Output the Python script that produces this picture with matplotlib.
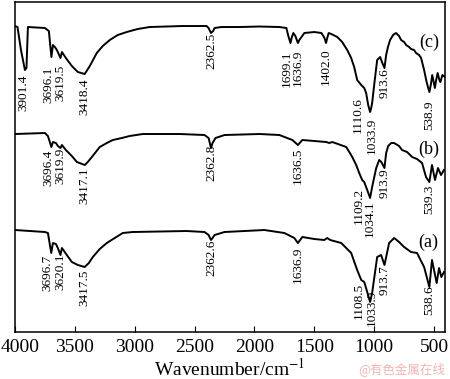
import matplotlib
matplotlib.use("Agg")
import matplotlib.pyplot as plt
import matplotlib.transforms as mtransforms

plt.rcParams['font.family'] = ['Liberation Serif', 'DejaVu Serif']
plt.rcParams['mathtext.fontset'] = 'stix'

# curve (c)
wn_c = [4000, 3979, 3950, 3917, 3904, 3896, 3892, 3750, 3717, 3696, 3683, 3667, 3650, 3620,
        3608, 3575, 3525, 3475, 3418, 3375, 3317, 3267, 3208, 3142, 3067, 2975, 2875, 2600,
        2400, 2383, 2363, 2345, 2333, 2275, 2125, 1958, 1792, 1733, 1717, 1699, 1690, 1675,
        1658, 1637, 1625, 1583, 1500, 1440, 1415, 1402, 1392, 1380, 1358, 1308, 1267, 1225,
        1192, 1167, 1142, 1108, 1083, 1067, 1050, 1034, 1025, 1017, 1000, 975, 950, 935, 914,
        900, 885, 867, 842, 817, 792, 775, 750, 733, 708, 692, 667, 650, 625, 608, 583, 562,
        539, 527, 515, 503, 493, 482, 470, 455, 447, 430, 408]
t_c = [306, 305, 282, 262, 264, 292, 305, 304, 301, 275, 287, 285, 282, 274,
       280, 274, 266, 260, 258, 266, 279, 286, 292, 297, 300, 303, 305, 306,
       306, 304, 299, 301, 304, 305, 305, 305.5, 305, 304, 296, 289, 294, 299,
       296, 289, 292, 299, 300, 299, 294, 289, 294, 299, 298, 295, 290, 282,
       274, 265, 252, 247, 244, 239, 227, 220, 224, 229, 247, 272, 275, 270, 264,
       277, 285, 292, 297, 299, 296, 292, 290, 287, 285, 283, 282, 279, 277, 274, 262, 250,
       240, 247, 257, 250, 244, 252, 259, 252, 250, 257, 255]

# curve (b)
wn_b = [4000, 3750, 3725, 3696, 3683, 3658, 3642, 3620, 3608, 3575, 3525, 3483, 3417, 3392,
        3358, 3292, 3233, 3183, 3108, 3042, 2933, 2625, 2417, 2383, 2363, 2350, 2325, 2250,
        1958, 1792, 1683, 1637, 1600, 1500, 1400, 1375, 1350, 1233, 1183, 1150, 1125, 1100,
        1083, 1058, 1034, 1017, 983, 958, 940, 914, 900, 883, 858, 833, 792, 767, 725, 683,
        642, 600, 567, 539, 517, 492, 467, 442, 417]
t_b = [198, 199, 196, 185, 190, 189, 186, 184, 187, 182, 176, 170, 167, 170,
       175, 185, 189, 192, 194, 196, 198, 198, 197, 194, 184, 189, 194, 197,
       198, 197, 192, 187, 192, 191, 190, 189, 190, 185, 175, 167, 159, 152,
       150, 142, 134, 145, 164, 172, 170, 164, 179, 186, 189, 189, 186, 182, 180, 175,
       173, 169, 155, 150, 167, 152, 164, 157, 162]

# curve (a)
wn_a = [4000, 3750, 3725, 3697, 3683, 3658, 3642, 3620, 3608, 3567, 3525, 3475, 3418, 3383,
        3350, 3292, 3233, 3167, 3100, 3017, 2567, 2417, 2383, 2363, 2350, 2333, 2250, 1917,
        1750, 1667, 1637, 1600, 1500, 1417, 1392, 1367, 1275, 1192, 1142, 1108, 1083, 1058,
        1034, 1017, 975, 942, 914, 875, 833, 792, 750, 692, 642, 583, 539, 517, 478, 458,
        439, 417]
t_a = [102, 100, 99, 79, 89, 88, 84, 77, 84, 77, 70, 67, 65, 69,
       75, 83, 89, 94, 99, 100, 101, 100, 97, 92, 94, 97, 100, 102,
       99, 94, 89, 95, 93, 92, 94, 92, 89, 79, 62, 52, 50, 40,
       30, 39, 75, 77, 67, 89, 94, 90, 85, 80, 79, 65, 45, 72, 49, 64,
       55, 60]

# peak labels: text and top of label
peaks_c = ['3901.4', '3696.1', '3619.5', '3418.4', '2362.5', '1699.1', '1636.9', '1402.0',
           '1110.6', '1033.9', '913.6', '538.9']
tops_c = [257, 265, 267, 254, 299, 282, 282, 284, 235, 214, 264, 232]
peaks_b = ['3696.4', '3619.9', '3417.1', '2362.8', '1636.5', '1109.2', '1034.1', '913.9', '539.3']
tops_b = [182, 184, 165, 187, 184, 144, 132, 164, 147]
peaks_a = ['3696.7', '3620.1', '3417.5', '2362.6', '1636.9', '1108.5', '1033.9', '913.7', '538.6']
tops_a = [77, 79, 62, 92, 85, 49, 42, 67, 47]

# small sideways nudges (px) so crowded labels sit side by side
nudge = {'3901.4': -3, '3696.1': -3, '3696.4': -3, '3696.7': -4, '1699.1': -4,
         '1110.6': -3, '1109.2': -2, '1108.5': -2, '1033.9': 2}

fig = plt.figure(figsize=(4.5, 3.79), dpi=100)
ax = fig.add_axes([0.0333, 0.124, 0.9557, 0.872])

for wn, t in [(wn_c, t_c), (wn_b, t_b), (wn_a, t_a)]:
    ax.plot(wn, t, color='black', lw=1.4)

for peaks, tops in [(peaks_c, tops_c), (peaks_b, tops_b), (peaks_a, tops_a)]:
    for p, top in zip(peaks, tops):
        ax.annotate(p, (float(p), top), xytext=(nudge.get(p, 0) * 0.72, 0),
                    textcoords='offset points', rotation=90, ha='center', va='top',
                    fontsize=9.5)

ax.text(542, 290, '(c)', ha='center', va='center', fontsize=13)
ax.text(542, 183, '(b)', ha='center', va='center', fontsize=13)
ax.text(550, 90, '(a)', ha='center', va='center', fontsize=13)

ax.set_xlim(4000, 408)
ax.set_ylim(0, 330.5)
ax.set_xticks([4000, 3500, 3000, 2500, 2000, 1500, 1000, 500])
ax.set_yticks([])
ax.tick_params(axis='x', direction='in', length=4, labelsize=14, pad=5)
for s in ax.spines.values():
    s.set_linewidth(1.1)
ax.set_xlabel('Wavenumber/cm$^{-1}$', fontsize=14, labelpad=1)

# keep the first tick label inside the figure, as in the original
first = ax.get_xticklabels()[0]
first.set_transform(first.get_transform() +
                    mtransforms.ScaledTranslation(0.05, 0, fig.dpi_scale_trans))

fig.text(0.989, 0.008, '@有色金属在线', ha='right', va='bottom', fontsize=9,
         color='#f2b5b5', family=['Noto Sans CJK SC', 'DejaVu Sans'])

fig.savefig('out.png', dpi=100)
